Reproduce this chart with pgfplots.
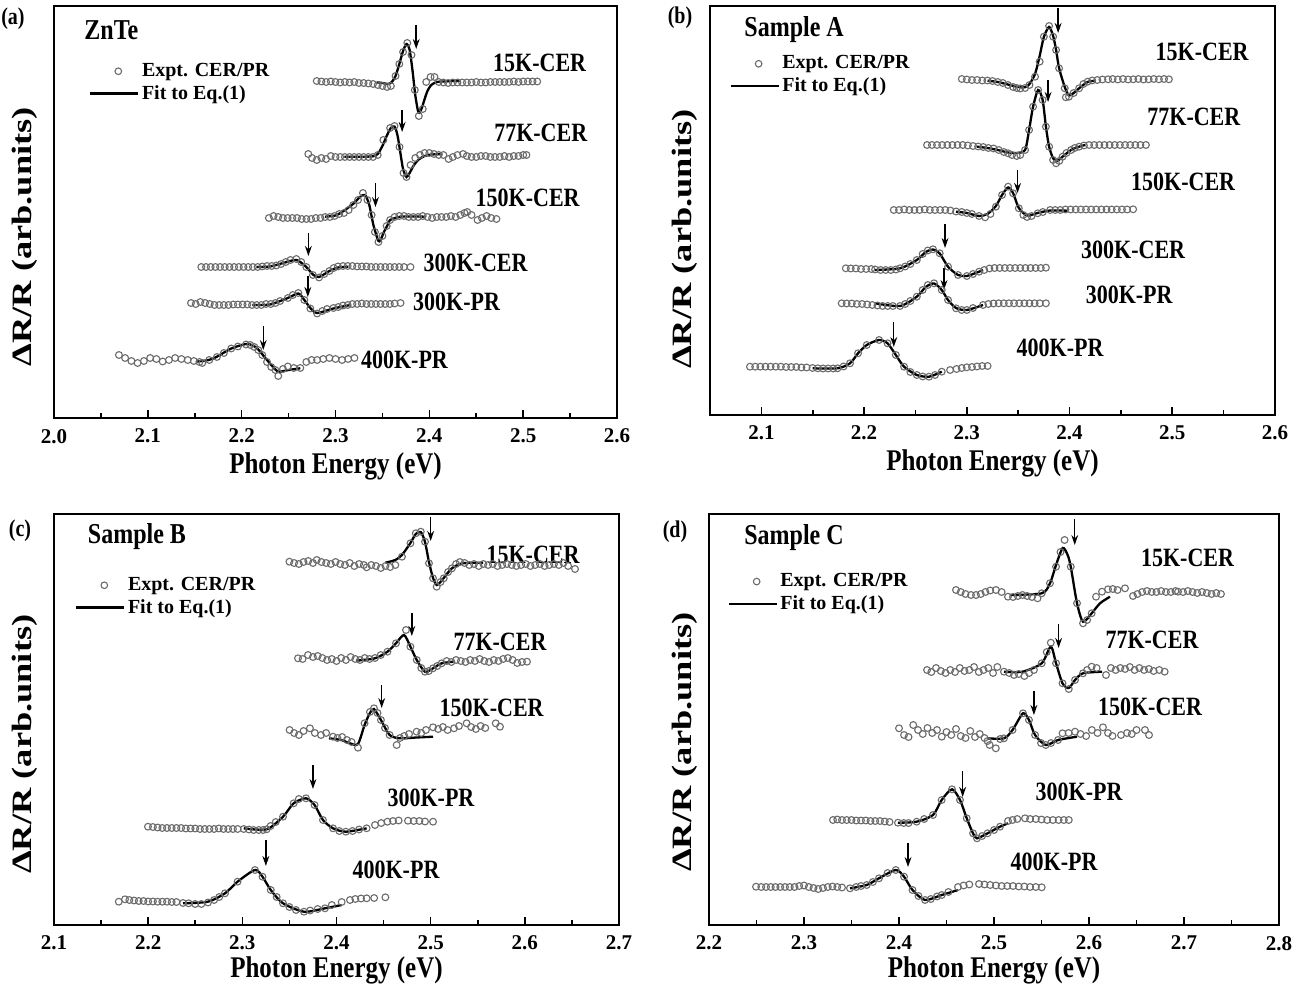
\documentclass[border=0pt]{standalone}
\usepackage{fontspec}
\setmainfont{Liberation Serif}
\usepackage{pgfplots}
\pgfplotsset{compat=1.18}
\usetikzlibrary{arrows.meta}

\newcommand\ft[1]{\fontsize{#1}{#1}\selectfont\bfseries}
\newcommand\sv[1]{\scalebox{1}[1.2]{#1}}
\newcommand\arr[3]{\draw[-{Stealth[length=5pt,width=3.4pt]}, line width=0.7pt] (axis cs:#1,#2) -- (axis cs:#1,#3);}

\tikzset{lab/.style={font=\ft{11}, inner sep=0pt}}

\pgfplotsset{
  panel/.style={
    scale only axis, anchor=south west, clip=false,
    y dir=reverse, ytick=\empty,
    xtick pos=left, tick align=inside,
    major tick length=4pt, minor tick length=2.5pt,
    axis line style={line width=0.9pt},
    every tick/.style={black, line width=0.8pt},
    /pgf/number format/assume math mode=true,
    xticklabel style={font=\ft{10.5}, yshift=-2pt,
      /pgf/number format/fixed, /pgf/number format/fixed zerofill,
      /pgf/number format/precision=1},
    xlabel={\sv{Photon Energy (eV)}},
    ylabel={\scalebox{1.3}[1]{ΔR/R (arb.units)}},
    xlabel style={font=\ft{12.5}, at={(axis description cs:0.5,0)}, anchor=center},
    ylabel style={font=\ft{14}, anchor=center},
    legend style={draw=none, fill=none, anchor=west, font=\ft{10},
      inner sep=0pt, row sep=0.5pt, nodes={inner sep=1.2pt}},
    legend cell align=left,
  },
  exp/.style={only marks, mark=o, mark size=1.7pt,
    mark options={draw=black!58, line width=0.55pt},
    legend image code/.code={\node[circle, draw=black!58, line width=0.55pt,
      inner sep=0pt, minimum size=3.3pt] at (12pt,0pt) {};}},
  fit/.style={no marks, black, line width=1.15pt, smooth, tension=0.45,
    legend image code/.code={\draw[black, line width=1.15pt] (0pt,0pt) -- (24pt,0pt);}},
}

\begin{document}
\begin{tikzpicture}
\useasboundingbox (0,0) rectangle (649.5pt,494.5pt);

\node[font=\ft{10}] at (6.5pt,485.3pt) {\sv{(a)}};
\node[font=\ft{10}] at (340pt,485.8pt) {\sv{(b)}};
\node[font=\ft{10}] at (10pt,229pt) {\sv{(c)}};
\node[font=\ft{10}] at (337.5pt,228.6pt) {\sv{(d)}};

% ---------------- (a) ZnTe
\begin{axis}[panel, at={(27pt,285.5pt)}, width=281.5pt, height=206pt,
  xmin=2.0, xmax=2.6, ymin=6, ymax=418,
  xtick={2.0,2.1,2.2,2.3,2.4,2.5,2.6}, minor xtick={2.05,2.15,2.25,2.35,2.45,2.55},
  xlabel style={yshift=-24pt}, ylabel style={at={(axis description cs:-0.0515,0.44)}},
  legend style={at={(axis description cs:0.062,0.814)}}]
\addplot[exp] coordinates {(2.280,81) (2.285,81.5) (2.290,82) (2.295,81.5) (2.300,82) (2.305,82.5) (2.310,82) (2.315,82.5) (2.320,82) (2.325,83) (2.330,83) (2.335,83.5) (2.340,84) (2.345,85) (2.350,86) (2.355,87) (2.359,86) (2.364,76) (2.368,64) (2.372,52) (2.3765,43) (2.381,55) (2.3845,90) (2.3888,116) (2.393,109) (2.3967,82) (2.4013,77) (2.4055,77) (2.410,82) (2.415,82.5) (2.420,83) (2.425,82.5) (2.430,82.5) (2.435,82.5) (2.440,82.5) (2.445,82.5) (2.450,82) (2.455,82.5) (2.460,82.5) (2.465,82) (2.470,82) (2.475,82) (2.480,82) (2.485,82) (2.490,81.5) (2.495,82) (2.500,81.5) (2.505,81.5) (2.510,81.5) (2.515,81.5)};
\addlegendentry{Expt. CER/PR}
\addplot[fit] coordinates {(2.344,82.3) (2.350,83) (2.356,84) (2.360,82) (2.364,76) (2.368,64) (2.372,51) (2.3757,44) (2.379,50) (2.382,70) (2.385,95) (2.3877,110) (2.3892,112.7) (2.392,108) (2.395,99) (2.398,91) (2.402,85) (2.408,82) (2.415,81.5) (2.425,81) (2.433,81)};
\addlegendentry{Fit to Eq.(1)}
\addplot[exp, forget plot] coordinates {(2.271,154) (2.275,158) (2.280,160) (2.285,158) (2.290,159) (2.295,156) (2.300,157) (2.305,157) (2.310,157) (2.315,157) (2.320,157) (2.325,157) (2.330,157) (2.335,157) (2.340,157) (2.345,155) (2.351,140) (2.3582,128) (2.3629,126) (2.3682,147) (2.3725,173) (2.3757,177) (2.380,165) (2.385,158) (2.390,155) (2.395,153) (2.400,153) (2.405,154) (2.410,155) (2.415,155) (2.4205,159) (2.425,157) (2.430,155) (2.436,154) (2.440,156) (2.445,157) (2.450,157) (2.455,156) (2.460,156) (2.465,157) (2.470,157) (2.475,157) (2.480,156) (2.485,157) (2.490,156) (2.495,156) (2.500,155) (2.5035,155)};
\addplot[fit, forget plot] coordinates {(2.3095,156.7) (2.320,156.7) (2.330,156.7) (2.340,156.3) (2.345,154) (2.350,146) (2.355,135) (2.359,128) (2.3629,126.5) (2.366,135) (2.369,152) (2.372,169) (2.3757,177) (2.379,173) (2.383,166) (2.388,160) (2.395,156) (2.403,154.5) (2.4138,154)};
\addplot[exp, forget plot] coordinates {(2.229,218) (2.234,216) (2.239,217) (2.244,218) (2.249,218) (2.254,218) (2.259,218) (2.264,219) (2.269,219) (2.274,219) (2.279,218) (2.284,218) (2.289,217) (2.294,217) (2.299,216) (2.304,214) (2.309,213) (2.314,210) (2.319,205) (2.324,200) (2.3292,193) (2.334,200) (2.3385,215) (2.342,232) (2.3458,242) (2.350,236) (2.3545,226) (2.3582,220) (2.363,217) (2.368,216) (2.373,216) (2.378,217) (2.383,217) (2.388,217) (2.393,216) (2.398,217) (2.403,218) (2.408,217) (2.413,217) (2.418,217) (2.423,216) (2.428,217) (2.433,215) (2.4375,213) (2.4404,212) (2.445,215) (2.4514,220) (2.456,218) (2.461,216) (2.466,218) (2.4715,219)};
\addplot[fit, forget plot] coordinates {(2.289,216.7) (2.300,215.5) (2.307,212) (2.313,208) (2.320,203) (2.326,197) (2.3315,195) (2.336,205) (2.3404,225) (2.3458,241) (2.349,238) (2.3511,233) (2.3555,225) (2.3582,220) (2.3693,216.7) (2.380,216.5) (2.396,216.7)};
\addplot[exp, forget plot] coordinates {(2.157,267) (2.162,267) (2.167,267) (2.172,267) (2.177,267) (2.182,267) (2.187,267) (2.192,267) (2.197,267) (2.202,267) (2.207,267) (2.212,267) (2.217,267) (2.222,266.5) (2.227,266) (2.232,266) (2.237,265.5) (2.242,264) (2.247,262) (2.252,260) (2.2583,259) (2.2635,262) (2.2689,267) (2.2759,275) (2.2825,277.5) (2.288,274) (2.2935,271) (2.298,268) (2.3026,266.5) (2.308,266) (2.313,266) (2.318,266) (2.323,266.5) (2.328,266.5) (2.333,266.5) (2.338,267) (2.343,267) (2.348,267) (2.353,267) (2.358,267) (2.363,267) (2.368,267) (2.373,267) (2.3799,267)};
\addplot[fit, forget plot] coordinates {(2.2156,267) (2.230,266.5) (2.2444,263) (2.2583,260) (2.2689,267) (2.2759,274.5) (2.2825,277) (2.2935,271) (2.3026,267.5) (2.3138,266.7)};
\addplot[exp, forget plot] coordinates {(2.146,303) (2.151,304) (2.156,302) (2.161,303) (2.166,304) (2.171,305) (2.176,305) (2.181,305) (2.186,305) (2.191,304.5) (2.196,304.5) (2.201,304.5) (2.206,304.5) (2.211,305) (2.216,305) (2.221,305) (2.226,304) (2.231,304) (2.236,303) (2.241,301) (2.2492,298) (2.2545,295) (2.2604,293) (2.2668,300) (2.2732,308.5) (2.2804,313.5) (2.286,311) (2.291,309) (2.2978,308) (2.303,307) (2.308,305.5) (2.313,305) (2.318,304) (2.323,304) (2.328,303.5) (2.333,304) (2.338,304) (2.343,304) (2.348,304) (2.353,304) (2.358,304) (2.363,303.5) (2.3693,303)};
\addplot[fit, forget plot] coordinates {(2.2113,305) (2.230,304.5) (2.2492,298) (2.2604,293.5) (2.2668,300) (2.2732,308) (2.2804,313) (2.2978,308.5) (2.3159,305)};
\addplot[exp, forget plot] coordinates {(2.0692,355) (2.0758,358) (2.0825,361) (2.0891,363) (2.0958,361) (2.1025,358) (2.1091,359) (2.1158,361.5) (2.1225,360) (2.1291,358) (2.1358,359) (2.1425,360) (2.149,361) (2.155,362) (2.158,363) (2.1655,360) (2.1736,357) (2.181,353) (2.1889,348.5) (2.196,346.5) (2.2047,344.5) (2.2092,345) (2.2135,347) (2.2177,350) (2.222,355) (2.227,362) (2.2315,367) (2.2359,370) (2.239,376) (2.244,369) (2.2492,366.5) (2.2555,368) (2.2625,368) (2.2689,362) (2.2745,360) (2.2804,360) (2.287,359) (2.2935,358) (2.300,359) (2.307,360) (2.3135,359) (2.3202,358)};
\addplot[fit, forget plot] coordinates {(2.1513,361.7) (2.165,360) (2.1736,356.7) (2.1889,348.5) (2.2047,344) (2.212,345.5) (2.2177,349.5) (2.227,360) (2.2359,369.5) (2.2401,371.7) (2.250,370) (2.2625,368.3)};
\arr{2.386}{25}{49} \arr{2.371}{110}{132} \arr{2.3426}{183}{207}
\arr{2.2711}{233}{256} \arr{2.2705}{276}{297} \arr{2.223}{326}{350}
\node[lab, anchor=west] at (axis cs:2.032,30) {\ft{12}\sv{ZnTe}};
\node[lab] at (axis cs:2.5176,63) {\sv{15K-CER}};
\node[lab] at (axis cs:2.5187,133) {\sv{77K-CER}};
\node[lab] at (axis cs:2.5048,198) {\sv{150K-CER}};
\node[lab] at (axis cs:2.4493,263) {\sv{300K-CER}};
\node[lab] at (axis cs:2.429,301.7) {\sv{300K-PR}};
\node[lab] at (axis cs:2.3735,360) {\sv{400K-PR}};
\end{axis}

% ---------------- (b) Sample A
\begin{axis}[panel, at={(355pt,287pt)}, width=282.5pt, height=204.5pt,
  xmin=2.05, xmax=2.6, ymin=6, ymax=415,
  xtick={2.1,2.2,2.3,2.4,2.5,2.6}, minor xtick={2.15,2.25,2.35,2.45,2.55},
  xlabel style={yshift=-24pt}, ylabel style={at={(axis description cs:-0.0442,0.43)}},
  legend style={at={(axis description cs:0.034,0.831)}}]
\addplot[exp] coordinates {(2.2951,79) (2.300,79.5) (2.305,80) (2.310,80) (2.315,80.5) (2.320,80.5) (2.325,81) (2.330,82) (2.335,83) (2.340,85) (2.345,87) (2.3486,88) (2.352,88.5) (2.3567,88) (2.361,85) (2.3664,76.7) (2.3709,61.7) (2.375,36.7) (2.3801,26) (2.384,36.7) (2.3869,50) (2.3898,68.3) (2.3953,88.3) (2.3964,97.3) (2.3994,96.7) (2.404,93) (2.4093,88.3) (2.4135,84) (2.4176,81.7) (2.422,80.5) (2.427,80) (2.432,79.5) (2.4375,79.3) (2.442,79) (2.447,79.5) (2.452,79) (2.457,79.5) (2.462,79.3) (2.467,79) (2.472,79.5) (2.477,79.3) (2.482,79) (2.487,79.3) (2.492,79) (2.4967,79.3)};
\addlegendentry{Expt. CER/PR}
\addplot[fit] coordinates {(2.3202,80.7) (2.330,82) (2.340,84.5) (2.350,87) (2.3567,87.3) (2.361,84) (2.3664,74) (2.3709,56) (2.375,37) (2.3801,27) (2.384,36) (2.3869,50) (2.3898,68) (2.3953,87) (2.3994,95.5) (2.404,93) (2.4093,88.3) (2.4176,82) (2.4256,80.7)};
\addlegendentry{Fit to Eq.(1)}
\addplot[exp, forget plot] coordinates {(2.2613,145) (2.266,145) (2.271,145) (2.276,145) (2.281,145) (2.286,145) (2.291,145) (2.296,145) (2.301,145.5) (2.306,146) (2.311,146.5) (2.316,147) (2.321,148) (2.326,148.5) (2.331,150) (2.336,152) (2.3402,153.3) (2.344,155) (2.3486,156) (2.352,155) (2.3567,150) (2.3606,130) (2.3645,106.7) (2.3694,90) (2.3738,100) (2.377,126.7) (2.3801,146.7) (2.384,160) (2.3869,163.3) (2.390,161) (2.3932,156.7) (2.397,153) (2.4015,150) (2.405,148) (2.4093,146.7) (2.414,145.5) (2.419,145) (2.424,145) (2.429,145) (2.434,145) (2.439,145) (2.444,145) (2.449,145) (2.454,145) (2.459,145) (2.464,145) (2.469,145) (2.4743,145)};
\addplot[fit, forget plot] coordinates {(2.31,146.7) (2.320,148) (2.330,150) (2.3402,152.5) (2.3486,153) (2.3567,150) (2.3606,130) (2.3645,106.7) (2.3694,90) (2.3738,100) (2.377,126.7) (2.3801,146.7) (2.384,158.3) (2.388,161) (2.3932,156.7) (2.4015,150) (2.4093,146.7) (2.4151,145)};
\addplot[exp, forget plot] coordinates {(2.2289,210) (2.234,210) (2.239,209.5) (2.244,210) (2.249,210) (2.254,210) (2.259,209.5) (2.264,210) (2.269,210) (2.274,210) (2.279,210) (2.284,210.5) (2.2895,211.5) (2.295,212) (2.300,213) (2.305,214) (2.3119,216) (2.3178,217.3) (2.323,214) (2.3283,206.7) (2.3343,195) (2.3402,186.7) (2.345,193.3) (2.3506,208.3) (2.355,215) (2.3587,217) (2.363,216) (2.3689,213.3) (2.374,212) (2.3811,210) (2.386,210) (2.391,210) (2.396,209.5) (2.401,209.5) (2.406,209.5) (2.411,209.5) (2.416,209.5) (2.421,209.5) (2.426,209.5) (2.431,209.5) (2.436,209.5) (2.441,209.5) (2.446,209.5) (2.451,209.5) (2.456,209.5) (2.4619,209.3)};
\addplot[fit, forget plot] coordinates {(2.2895,211.7) (2.300,213) (2.3119,216) (2.320,214) (2.3283,206) (2.3343,195) (2.3402,187.5) (2.345,193) (2.3506,208) (2.3587,215.5) (2.3689,213) (2.3811,210.5) (2.3973,210.7)};
\addplot[exp, forget plot] coordinates {(2.1822,268.3) (2.187,268.5) (2.192,268.5) (2.197,269) (2.202,269) (2.207,269) (2.2107,269.5) (2.216,270) (2.221,270) (2.226,270) (2.231,269.5) (2.235,268.3) (2.240,266.5) (2.245,264) (2.2513,260) (2.257,254) (2.262,250.5) (2.2671,249.3) (2.2736,253.3) (2.2817,266.7) (2.2915,275) (2.300,276) (2.306,274) (2.3119,271.7) (2.317,270) (2.322,268.5) (2.327,268) (2.332,268) (2.337,268) (2.342,268) (2.347,268) (2.352,268) (2.357,268) (2.362,268) (2.367,268) (2.372,268) (2.377,267.7)};
\addplot[fit, forget plot] coordinates {(2.2107,270) (2.235,268.3) (2.2513,260) (2.260,252) (2.2671,249.5) (2.2736,253.5) (2.2817,266.7) (2.2915,275) (2.300,276) (2.3119,271.7) (2.3158,270)};
\addplot[exp, forget plot] coordinates {(2.1782,303.3) (2.183,303.5) (2.188,303.5) (2.193,304) (2.198,304) (2.203,304.5) (2.208,305) (2.213,305.5) (2.218,306) (2.223,306) (2.228,306) (2.235,306) (2.240,304) (2.245,301) (2.2513,296.7) (2.257,290) (2.262,285) (2.2681,283.3) (2.2756,290) (2.2817,300) (2.2895,308.3) (2.295,310) (2.300,310) (2.306,308) (2.3158,305) (2.321,304) (2.326,303.5) (2.331,303.3) (2.336,303.3) (2.341,303.3) (2.346,303.3) (2.351,303.3) (2.356,303.3) (2.361,303.3) (2.366,303.3) (2.371,303.3) (2.377,303.3)};
\addplot[fit, forget plot] coordinates {(2.2107,303.3) (2.235,306) (2.2513,296.7) (2.260,287) (2.2681,283.5) (2.2756,290) (2.2817,300) (2.2895,308) (2.300,310) (2.3158,305)};
\addplot[exp, forget plot] coordinates {(2.0889,366.7) (2.094,366.7) (2.099,366.7) (2.104,366.7) (2.109,366.7) (2.114,366.7) (2.119,366.7) (2.124,367) (2.129,367) (2.134,367) (2.139,367.5) (2.144,367.5) (2.1498,368) (2.155,368.3) (2.160,368.5) (2.165,368.5) (2.170,368.5) (2.1741,368.3) (2.180,366.5) (2.1863,363.3) (2.1941,353.3) (2.2026,345) (2.2146,340) (2.2228,343.3) (2.2309,355) (2.2389,366.7) (2.245,372) (2.2513,375) (2.257,376.5) (2.2632,376.7) (2.269,375) (2.2756,371.7) (2.2837,370) (2.290,369) (2.295,368) (2.300,367.3) (2.305,367) (2.310,366.5) (2.315,366) (2.3202,366)};
\addplot[fit, forget plot] coordinates {(2.1498,368.3) (2.1741,368.3) (2.1863,363.3) (2.1941,353.3) (2.2026,345) (2.2146,340) (2.2228,343.3) (2.2309,355) (2.2389,366.7) (2.2513,375) (2.2632,376.7) (2.2756,371.7)};
\arr{2.3889}{8}{33} \arr{2.3791}{80}{102} \arr{2.3494}{170}{193}
\arr{2.2788}{224}{248} \arr{2.2778}{268}{290} \arr{2.2289}{322}{347}
\node[lab, anchor=west] at (axis cs:2.0831,30) {\ft{12}\sv{Sample A}};
\node[lab] at (axis cs:2.5291,51.7) {\sv{15K-CER}};
\node[lab] at (axis cs:2.521,116.7) {\sv{77K-CER}};
\node[lab] at (axis cs:2.5106,181.7) {\sv{150K-CER}};
\node[lab] at (axis cs:2.4619,250) {\sv{300K-CER}};
\node[lab] at (axis cs:2.458,295) {\sv{300K-PR}};
\node[lab] at (axis cs:2.3908,348.3) {\sv{400K-PR}};
\end{axis}

% ---------------- (c) Sample B
\begin{axis}[panel, at={(27pt,32pt)}, width=282.5pt, height=205.5pt,
  xmin=2.1, xmax=2.7, ymin=514, ymax=925,
  xtick={2.1,2.2,2.3,2.4,2.5,2.6,2.7}, minor xtick={2.15,2.25,2.35,2.45,2.55,2.65},
  xlabel style={yshift=-22.5pt}, ylabel style={at={(axis description cs:-0.0513,0.44)}},
  legend style={at={(axis description cs:0.037,0.799)}}]
\addplot[exp] coordinates {(2.350,561.7) (2.355,563) (2.360,564) (2.365,562) (2.370,561) (2.375,563) (2.379,560) (2.384,562) (2.389,563) (2.394,564) (2.399,562) (2.404,564) (2.409,565) (2.414,563) (2.419,566) (2.424,564) (2.429,565) (2.432,567.3) (2.437,565) (2.442,566) (2.447,568) (2.452,566) (2.457,567) (2.4625,565) (2.4695,556.7) (2.4785,543.3) (2.4842,533.3) (2.4895,531.7) (2.494,541.7) (2.4982,563.3) (2.5025,578.3) (2.5064,586.7) (2.5105,582) (2.5139,578.3) (2.5185,572) (2.5226,568.3) (2.527,564) (2.531,562) (2.536,563) (2.541,565) (2.546,564) (2.551,566) (2.556,564) (2.561,565) (2.566,564) (2.571,566) (2.576,565) (2.581,564) (2.586,565) (2.591,566) (2.596,565) (2.601,564) (2.606,566) (2.611,565) (2.616,564) (2.621,566) (2.626,565) (2.631,564) (2.636,565) (2.641,563) (2.646,566) (2.6533,569)};
\addlegendentry{Expt. CER/PR}
\addplot[fit] coordinates {(2.4519,562.7) (2.4625,560) (2.4695,555) (2.4785,543) (2.4842,534) (2.4895,532) (2.494,542) (2.4982,562) (2.5025,578) (2.5064,585) (2.5105,582) (2.5139,578) (2.5226,568.3) (2.5338,563.3) (2.5556,562.7)};
\addlegendentry{Fit to Eq.(1)}
\addplot[exp, forget plot] coordinates {(2.3591,658.3) (2.364,659) (2.3697,655) (2.375,657) (2.380,656) (2.385,658) (2.390,660) (2.395,659) (2.400,661) (2.405,658) (2.410,660) (2.415,657) (2.420,659) (2.425,660) (2.430,658) (2.435,659) (2.4409,658) (2.447,655) (2.4541,651.7) (2.4632,643.3) (2.4738,630) (2.4785,646.7) (2.4852,660) (2.490,668) (2.494,671.7) (2.498,671) (2.5025,668.3) (2.507,666) (2.5117,663.3) (2.517,661) (2.522,662) (2.527,660) (2.532,661) (2.537,662) (2.542,660) (2.547,661) (2.552,659) (2.557,661) (2.562,662) (2.567,660) (2.572,661) (2.577,659) (2.582,658) (2.587,660) (2.592,663) (2.597,662) (2.6023,661.7)};
\addplot[fit, forget plot] coordinates {(2.4207,660.7) (2.4409,658.3) (2.4541,651.7) (2.4632,643.3) (2.4717,635) (2.4785,646.7) (2.4852,660) (2.494,671.7) (2.5025,668.3) (2.5117,663.3) (2.5248,661.7)};
\addplot[exp, forget plot] coordinates {(2.3502,730) (2.355,733) (2.360,735) (2.365,731) (2.3718,728.3) (2.377,733) (2.3835,735) (2.389,733) (2.3963,736.7) (2.401,738) (2.406,737) (2.411,740) (2.416,742) (2.4228,747.7) (2.4298,723.3) (2.4355,712) (2.4398,708.3) (2.4435,713) (2.4472,720) (2.4515,728) (2.4564,735) (2.4639,745) (2.4674,738) (2.472,736) (2.477,734) (2.4851,731.7) (2.490,733) (2.495,730) (2.5025,727.3) (2.508,729) (2.513,727) (2.518,730) (2.5248,728.3) (2.530,726) (2.5382,723.3) (2.543,727) (2.548,729) (2.553,726) (2.558,728) (2.5691,723.3) (2.5736,726.7)};
\addplot[fit, forget plot] coordinates {(2.392,738.3) (2.405,740) (2.4143,743.3) (2.4228,744) (2.4298,725) (2.4355,713) (2.4398,709) (2.4472,720) (2.4564,735) (2.4674,738.3) (2.485,737.5) (2.5025,736.7)};
\addplot[exp, forget plot] coordinates {(2.1998,826.7) (2.205,827) (2.210,827.5) (2.215,828) (2.220,828) (2.225,828) (2.230,828) (2.235,828) (2.240,828.5) (2.245,828.5) (2.250,828.5) (2.255,829) (2.260,829) (2.265,829) (2.270,829) (2.275,828.5) (2.280,829) (2.285,829) (2.290,829) (2.295,829) (2.3015,829) (2.307,829.5) (2.312,830) (2.3175,830) (2.322,830) (2.3258,829.3) (2.330,826) (2.3355,822) (2.3432,816.7) (2.3545,803.3) (2.360,799) (2.3676,798.3) (2.3767,805) (2.3856,820) (2.3963,828.3) (2.403,831) (2.4099,831.7) (2.417,831) (2.424,829.5) (2.432,828.3) (2.4409,825) (2.4475,823) (2.4541,821.7) (2.460,821) (2.466,820.5) (2.4759,820.7) (2.482,821) (2.488,821) (2.494,821.5) (2.5025,821.7)};
\addplot[fit, forget plot] coordinates {(2.3015,828.3) (2.3258,829.3) (2.3432,816.7) (2.3545,803.3) (2.3676,798.3) (2.3767,805) (2.3856,820) (2.3963,828.3) (2.4099,831.7) (2.432,828.3)};
\addplot[exp, forget plot] coordinates {(2.1688,901.7) (2.1754,899.3) (2.180,900) (2.185,900.5) (2.190,901) (2.195,901) (2.200,901.5) (2.205,901.5) (2.210,901.7) (2.215,901.7) (2.220,901.7) (2.225,902) (2.230,902) (2.237,903) (2.243,903.3) (2.250,904) (2.2565,904) (2.2635,902.5) (2.270,900) (2.2755,897) (2.2816,893.3) (2.2949,881.7) (2.3134,870) (2.3214,876.7) (2.3302,890) (2.3365,897) (2.3432,903.3) (2.350,907) (2.357,910) (2.3655,911.7) (2.372,910.5) (2.380,909) (2.3878,908.3) (2.395,905) (2.4055,902) (2.4143,900) (2.420,899) (2.426,898.5) (2.432,898.3) (2.440,898) (2.4519,897.3)};
\addplot[fit, forget plot] coordinates {(2.237,903.3) (2.2635,901.7) (2.2816,893.3) (2.2949,881.7) (2.3134,870) (2.3214,876.7) (2.3302,890) (2.3432,903.3) (2.3655,911.7) (2.3878,908.3) (2.4055,905)};
\arr{2.5}{517}{541} \arr{2.48}{613}{636} \arr{2.448}{685}{708}
\arr{2.375}{765}{789} \arr{2.325}{840}{866}
\node[lab, anchor=west] at (axis cs:2.1356,537) {\ft{12}\sv{Sample B}};
\node[lab] at (axis cs:2.6087,555) {\sv{15K-CER}};
\node[lab] at (axis cs:2.5736,641.7) {\sv{77K-CER}};
\node[lab] at (axis cs:2.5648,708.3) {\sv{150K-CER}};
\node[lab] at (axis cs:2.5003,798.3) {\sv{300K-PR}};
\node[lab] at (axis cs:2.4632,870) {\sv{400K-PR}};
\end{axis}

% ---------------- (d) Sample C
\begin{axis}[panel, at={(354.5pt,32pt)}, width=285pt, height=205.5pt,
  xmin=2.2, xmax=2.8, ymin=514, ymax=925,
  xtick={2.2,2.3,2.4,2.5,2.6,2.7,2.8}, minor xtick={2.25,2.35,2.45,2.55,2.65,2.75},
  xlabel style={yshift=-22.5pt}, ylabel style={at={(axis description cs:-0.042,0.445)}},
  legend style={at={(axis description cs:0.032,0.808)}}]
\addplot[exp] coordinates {(2.460,590) (2.465,592) (2.470,594) (2.4758,595) (2.481,595) (2.486,594) (2.491,592) (2.496,590.5) (2.5021,590) (2.508,592) (2.5147,596.7) (2.520,597) (2.525,596) (2.530,595) (2.535,596) (2.540,597) (2.5458,598.3) (2.5502,593.3) (2.5589,583.3) (2.5653,566.7) (2.570,552) (2.5743,540) (2.5808,566.7) (2.5874,603.3) (2.5937,623.3) (2.598,620) (2.6028,613.3) (2.6074,596.7) (2.6137,591.7) (2.620,589.3) (2.625,589) (2.630,590) (2.6379,588.3) (2.6463,596) (2.651,594) (2.656,592) (2.661,591) (2.666,592) (2.671,592) (2.676,591) (2.681,592) (2.686,592) (2.691,591) (2.6937,591.7) (2.699,592) (2.704,591) (2.709,592) (2.714,593) (2.719,592) (2.724,593) (2.729,594) (2.734,593) (2.7389,594)};
\addlegendentry{Expt. CER/PR}
\addplot[fit] coordinates {(2.5168,595) (2.5502,593.3) (2.5589,583.3) (2.5653,565) (2.5723,548) (2.5775,555) (2.5808,566.7) (2.5874,603.3) (2.5937,621.7) (2.6028,613.3) (2.6116,603.3) (2.6221,596.7)};
\addlegendentry{Fit to Eq.(1)}
\addplot[exp, forget plot] coordinates {(2.4295,670) (2.434,672) (2.439,668) (2.444,671) (2.449,673) (2.454,670) (2.459,672) (2.464,668) (2.469,671) (2.474,670) (2.479,667) (2.484,672) (2.489,670) (2.494,668) (2.499,673) (2.5035,667) (2.5105,671.7) (2.516,673) (2.521,675) (2.526,674) (2.532,676) (2.537,673) (2.542,670) (2.5502,663.3) (2.5555,652) (2.5598,642.7) (2.5653,663.3) (2.5721,683.3) (2.5787,689) (2.5853,680) (2.5937,673.3) (2.598,670) (2.6028,666.7) (2.608,668) (2.6179,675) (2.623,668) (2.628,670) (2.633,668) (2.638,669) (2.643,667) (2.648,670) (2.653,668) (2.658,670) (2.663,669) (2.668,671) (2.674,670) (2.6796,671.7)};
\addplot[fit, forget plot] coordinates {(2.5105,671.7) (2.530,671.7) (2.5502,663.3) (2.5598,646.7) (2.5653,663.3) (2.5721,683.3) (2.5787,688) (2.5853,680) (2.5937,673.3) (2.6137,671.7)};
\addplot[exp, forget plot] coordinates {(2.400,728.3) (2.4053,735) (2.410,737) (2.415,725) (2.420,730) (2.425,734) (2.430,728) (2.435,733) (2.440,730) (2.445,736.7) (2.450,732) (2.455,735) (2.460,729) (2.465,736) (2.470,738) (2.475,731) (2.480,737) (2.485,734) (2.490,738) (2.4932,741) (2.4954,745) (2.5019,748.3) (2.5065,739) (2.5105,738.3) (2.5195,730) (2.5305,713.3) (2.5368,720) (2.5432,735) (2.5495,743) (2.5545,745) (2.560,743) (2.5674,740) (2.5721,733.3) (2.5785,733) (2.5853,731.7) (2.591,734) (2.597,736) (2.603,730) (2.609,733) (2.6147,727.3) (2.620,733) (2.6247,736) (2.6337,735) (2.640,733) (2.645,734) (2.650,730) (2.6589,730) (2.6632,735)};
\addplot[fit, forget plot] coordinates {(2.4932,738.3) (2.5105,738.3) (2.5195,730) (2.5305,713.3) (2.5368,720) (2.5432,735) (2.5545,745) (2.5674,740) (2.5874,736.7)};
\addplot[exp, forget plot] coordinates {(2.3305,820) (2.335,819.5) (2.340,820) (2.345,820) (2.350,820) (2.355,820.5) (2.360,820.5) (2.365,820.5) (2.370,821) (2.375,821) (2.380,821) (2.385,821.5) (2.390,822) (2.3989,822.7) (2.405,823) (2.410,823) (2.4186,821.7) (2.4265,819) (2.4358,815) (2.4449,800) (2.4558,789.3) (2.4642,800) (2.4713,818.3) (2.4779,833.3) (2.4821,838.3) (2.4875,836) (2.4932,833.3) (2.500,830) (2.5063,826.7) (2.5147,821) (2.5195,820) (2.5245,819) (2.5326,818.3) (2.538,819) (2.544,819) (2.550,819.5) (2.556,820) (2.562,820) (2.568,820) (2.5735,820) (2.5787,820)};
\addplot[fit, forget plot] coordinates {(2.3989,822.7) (2.4186,821.7) (2.4358,815) (2.4449,800) (2.4558,789.3) (2.4642,800) (2.4713,818.3) (2.4779,833.3) (2.4821,838.3) (2.4932,833.3) (2.5063,826.7) (2.5147,823.3)};
\addplot[exp, forget plot] coordinates {(2.2495,886.7) (2.255,887) (2.260,887) (2.265,887) (2.270,887) (2.275,887) (2.280,887) (2.285,887) (2.290,887) (2.295,886) (2.300,885.5) (2.305,887) (2.310,888) (2.315,889) (2.320,888) (2.325,887) (2.330,886.5) (2.335,887) (2.340,887.5) (2.3484,888.3) (2.355,887) (2.360,886) (2.366,885) (2.3725,882) (2.3789,878.3) (2.388,873) (2.3966,870) (2.4053,876.7) (2.4142,890) (2.4205,896) (2.4274,900) (2.4335,899) (2.440,896.5) (2.445,895) (2.452,892) (2.4621,887) (2.468,885.5) (2.474,884.5) (2.4842,884) (2.490,884.5) (2.496,885) (2.502,885.5) (2.508,886) (2.514,886) (2.520,886) (2.526,886.5) (2.532,886.5) (2.538,887) (2.544,887) (2.5502,887.3)};
\addplot[fit, forget plot] coordinates {(2.3484,888.3) (2.366,885) (2.3789,878.3) (2.3966,870) (2.4053,876.7) (2.4142,890) (2.4274,900) (2.445,895) (2.4621,890)};
\arr{2.585}{519}{545} \arr{2.568}{624}{648} \arr{2.542}{691}{715}
\arr{2.467}{771}{797} \arr{2.4095}{843}{867}
\node[lab, anchor=west] at (axis cs:2.2368,538) {\ft{12}\sv{Sample C}};
\node[lab] at (axis cs:2.7037,558.3) {\sv{15K-CER}};
\node[lab] at (axis cs:2.6663,640) {\sv{77K-CER}};
\node[lab] at (axis cs:2.6642,706.7) {\sv{150K-CER}};
\node[lab] at (axis cs:2.5895,791.7) {\sv{300K-PR}};
\node[lab] at (axis cs:2.5632,861.7) {\sv{400K-PR}};
\end{axis}
\end{tikzpicture}
\end{document}
